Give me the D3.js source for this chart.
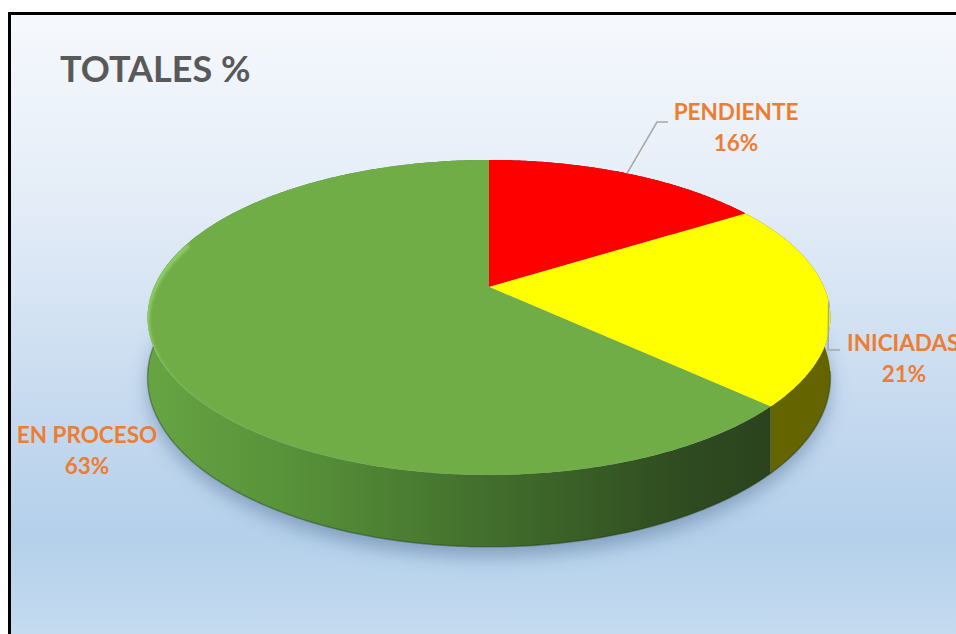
<!DOCTYPE html>
<html>
<head>
<meta charset="utf-8">
<script src="https://cdn.jsdelivr.net/npm/d3@7"></script>
<style>
  body { margin: 0; background: #fff; }
  svg { display: block; }
</style>
</head>
<body>
<script>
// data
const categories = ['PENDIENTE', 'INICIADAS', 'EN PROCESO'];
const values = [16, 21, 63];
const pctLabels = ['16%', '21%', '63%'];

const topColors = ['#ff0000', '#ffff00', '#70ad47'];

const width = 956, height = 634;

const svg = d3.select('body').append('svg')
  .attr('width', width)
  .attr('height', height);

const defs = svg.append('defs');

// background gradient
const bg = defs.append('linearGradient').attr('id', 'bg')
  .attr('x1', 0).attr('y1', 0).attr('x2', 0).attr('y2', 1);
[[0, '#f6f9fd'], [0.3, '#e3ecf7'], [0.62, '#c4d9ef'], [0.8, '#b4d0ea'], [1, '#cadff2']]
  .forEach(s => bg.append('stop').attr('offset', s[0]).attr('stop-color', s[1]));

// side gradients
const sideGrad = [
  { id: 'sideRed', stops: [[0, '#8a0000'], [1, '#6a0000']] },
  { id: 'sideYellow', stops: [[0, '#777700'], [1, '#646400']] },
  { id: 'sideGreen', stops: [[0, '#66a443'], [0.25, '#568f38'], [0.55, '#416d2c'], [0.85, '#2f4b20'], [1, '#2a421d']] }
];
sideGrad.forEach(g => {
  const lg = defs.append('linearGradient').attr('id', g.id)
    .attr('gradientUnits', 'userSpaceOnUse')
    .attr('x1', 150).attr('y1', 0).attr('x2', 780).attr('y2', 0);
  g.stops.forEach(s => lg.append('stop').attr('offset', s[0]).attr('stop-color', s[1]));
});
const sideFills = ['url(#sideRed)', 'url(#sideYellow)', 'url(#sideGreen)'];

defs.append('filter').attr('id', 'blurShadow')
  .attr('x', '-20%').attr('y', '-20%').attr('width', '140%').attr('height', '140%')
  .append('feGaussianBlur').attr('stdDeviation', 9);
defs.append('filter').attr('id', 'blurRim')
  .append('feGaussianBlur').attr('stdDeviation', 1.6);

// chart area + frame
svg.append('rect')
  .attr('x', 9.5).attr('y', 13.5)
  .attr('width', width + 20).attr('height', height + 20)
  .attr('fill', 'url(#bg)')
  .attr('stroke', '#000')
  .attr('stroke-width', 3);

svg.append('text')
  .attr('x', 60).attr('y', 82)
  .attr('font-family', 'Lato, "Open Sans", sans-serif')
  .attr('font-weight', 'bold')
  .attr('font-size', 36)
  .attr('fill', '#595959')
  .text('TOTALES %');

// 3d pie geometry (perspective projection of a flat disc)
const cx = 489, cy = 287, RX = 335, RY = 151.6, D = 5.17, H = 58;

function proj(theta, r, dy) {
  const x = Math.sin(theta) * r;
  const z = -Math.cos(theta) * r;
  const s = D / (D - z);
  return [cx + RX * x * s, cy + RY * z * s + dy * s];
}

function arcPoints(a0, a1, dy) {
  const n = Math.max(2, Math.ceil((a1 - a0) / 0.01));
  return d3.range(n + 1).map(i => proj(a0 + (a1 - a0) * i / n, 1, dy));
}

const line = d3.line();

const pie = d3.pie().sort(null).value(d => d);
const arcs = pie(values);

const g = svg.append('g');

// shadow under the disc
g.append('path')
  .attr('d', line(arcPoints(0, 2 * Math.PI, H + 8)) + 'Z')
  .attr('fill', 'rgba(70,100,140,0.45)')
  .attr('filter', 'url(#blurShadow)');

// side walls
g.selectAll('path.side')
  .data(arcs)
  .join('path')
  .attr('class', 'side')
  .attr('d', d => {
    const top = arcPoints(d.startAngle, d.endAngle, 0);
    const bot = arcPoints(d.startAngle, d.endAngle, H).reverse();
    return line(top.concat(bot)) + 'Z';
  })
  .attr('fill', (d, i) => sideFills[i]);

// bottom edge darker line
g.append('path')
  .attr('d', line(arcPoints(Math.PI * 0.55, Math.PI * 1.5, H)))
  .attr('fill', 'none')
  .attr('stroke', 'rgba(20,40,10,0.35)')
  .attr('stroke-width', 1.5);

// top faces
function topPath(d) {
  const pts = [proj(0, 0, 0)].concat(arcPoints(d.startAngle, d.endAngle, 0));
  return line(pts) + 'Z';
}

g.selectAll('path.top')
  .data(arcs)
  .join('path')
  .attr('class', 'top')
  .attr('d', topPath)
  .attr('fill', (d, i) => topColors[i]);

// soft rim highlight on the top face
defs.append('clipPath').attr('id', 'topClip')
  .append('path').attr('d', line(arcPoints(0, 2 * Math.PI, 0)) + 'Z');

g.append('path')
  .attr('d', line(arcPoints(Math.PI * 0.78, Math.PI * 1.6, 3)))
  .attr('fill', 'none')
  .attr('stroke', 'rgba(170,230,130,0.6)')
  .attr('stroke-width', 4)
  .attr('filter', 'url(#blurRim)')
  .attr('clip-path', 'url(#topClip)');

// labels
const labelPos = [
  { x: 736, y: 120, anchor: 'middle', elbow: [657, 122], end: [668, 122] },
  { x: 847, y: 351, anchor: 'start', center: 904, elbow: [828, 350], end: [840, 350] },
  { x: 87, y: 443, anchor: 'middle' }
];

const orange = '#ed7d31';

arcs.forEach((d, i) => {
  const p = labelPos[i];
  if (p.elbow) {
    const mid = (d.startAngle + d.endAngle) / 2;
    const start = proj(mid, 1, 0);
    g.append('path')
      .attr('d', line([start, p.elbow, p.end]))
      .attr('fill', 'none')
      .attr('stroke', '#a6a6a6')
      .attr('stroke-width', 1.5);
  }
  const t = g.append('text')
    .attr('font-family', 'Lato, "Open Sans", sans-serif')
    .attr('font-weight', 'bold')
    .attr('font-size', 22.5)
    .attr('fill', orange);
  t.append('tspan')
    .attr('x', p.x).attr('y', p.y)
    .attr('text-anchor', p.anchor)
    .text(categories[i]);
  t.append('tspan')
    .attr('x', p.center || p.x).attr('y', p.y + 31)
    .attr('text-anchor', 'middle')
    .text(pctLabels[i]);
});
</script>
</body>
</html>
